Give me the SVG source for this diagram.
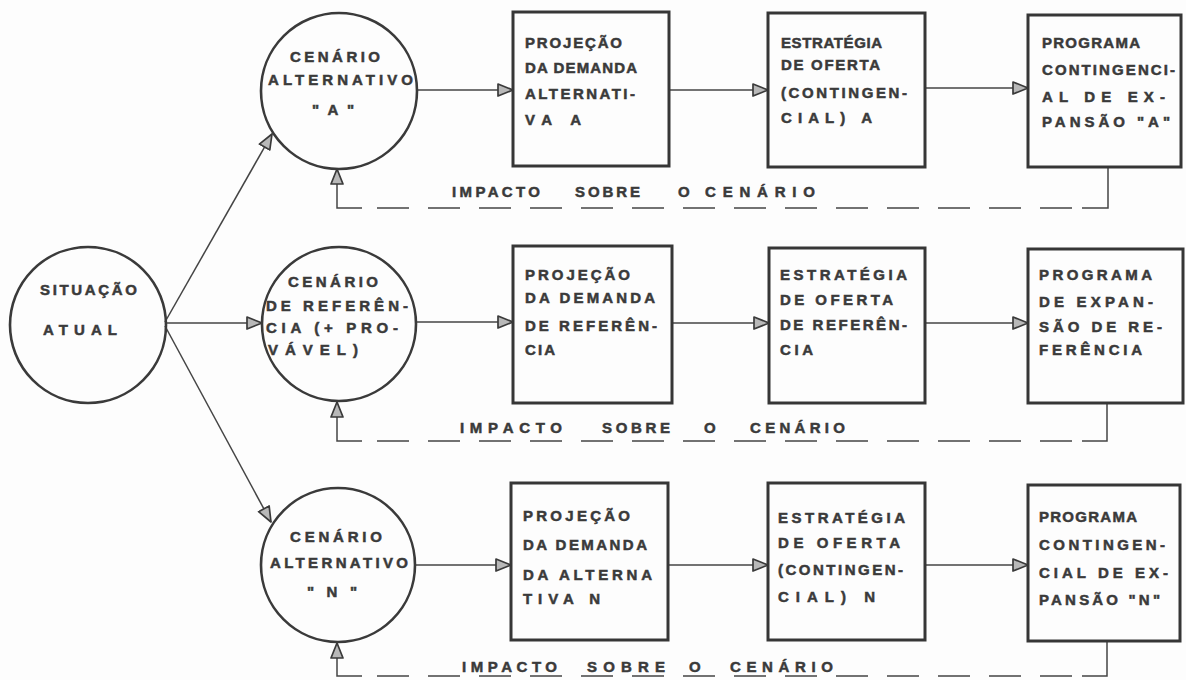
<svg xmlns="http://www.w3.org/2000/svg" width="1186" height="680" viewBox="0 0 1186 680">
<defs>
<style>
.bg{fill:#fdfdfd}
.circ{fill:none;stroke:#3a3a3a;stroke-width:2.6}
.box{fill:none;stroke:#363636;stroke-width:3}
.con{fill:none;stroke:#444;stroke-width:1.5}
.dash{fill:none;stroke:#444;stroke-width:1.6;stroke-dasharray:32 19}
text{font-family:"Liberation Sans","DejaVu Sans",sans-serif;font-weight:bold;font-size:15px;fill:#3a3a3a;stroke:#3a3a3a;stroke-width:0.5}
.imp{font-size:15px}
</style>
<marker id="ah" markerUnits="userSpaceOnUse" markerWidth="18" markerHeight="16" refX="16" refY="8" orient="auto">
<path d="M1,2 L16,8 L1,14 Z" fill="#b8b8b8" stroke="#3a3a3a" stroke-width="1.7" stroke-linejoin="round"/>
</marker>
</defs>
<rect class="bg" x="0" y="0" width="1186" height="680"/>

<g id="connectors">
<line class="con" x1="165" y1="322" x2="272" y2="134" marker-end="url(#ah)"/>
<line class="con" x1="166" y1="323" x2="262" y2="323" marker-end="url(#ah)"/>
<line class="con" x1="165" y1="326" x2="271" y2="522" marker-end="url(#ah)"/>

<line class="con" x1="417" y1="90" x2="513" y2="90" marker-end="url(#ah)"/>
<line class="con" x1="669" y1="90" x2="768" y2="90" marker-end="url(#ah)"/>
<line class="con" x1="925" y1="88" x2="1028" y2="88" marker-end="url(#ah)"/>

<line class="con" x1="416" y1="322" x2="513" y2="322" marker-end="url(#ah)"/>
<line class="con" x1="672" y1="323" x2="769" y2="323" marker-end="url(#ah)"/>
<line class="con" x1="925" y1="323" x2="1028" y2="323" marker-end="url(#ah)"/>

<line class="con" x1="415" y1="565" x2="511" y2="565" marker-end="url(#ah)"/>
<line class="con" x1="668" y1="565" x2="768" y2="565" marker-end="url(#ah)"/>
<line class="con" x1="925" y1="565" x2="1028" y2="565" marker-end="url(#ah)"/>

<polyline class="con" points="1108,167 1108,208 1082,208"/>
<line class="dash" x1="1072" y1="208" x2="360" y2="208"/>
<polyline class="con" points="362,208 337,208 337,169" marker-end="url(#ah)"/>

<polyline class="con" points="1107,403 1107,441 1082,441"/>
<line class="dash" x1="1072" y1="441" x2="360" y2="441"/>
<polyline class="con" points="362,441 337,441 337,402" marker-end="url(#ah)"/>

<polyline class="con" points="1107,641 1107,676 1082,676"/>
<line class="dash" x1="1072" y1="676" x2="360" y2="676"/>
<polyline class="con" points="362,676 337,676 337,643" marker-end="url(#ah)"/>

<text class="imp" y="197"><tspan x="452" textLength="88" lengthAdjust="spacing">IMPACTO</tspan><tspan x="575" textLength="65" lengthAdjust="spacing">SOBRE</tspan><tspan x="678">O</tspan><tspan x="705" textLength="110" lengthAdjust="spacing">CENÁRIO</tspan></text>
<text class="imp" y="433"><tspan x="460" textLength="102" lengthAdjust="spacing">IMPACTO</tspan><tspan x="602" textLength="68" lengthAdjust="spacing">SOBRE</tspan><tspan x="704">O</tspan><tspan x="750" textLength="95" lengthAdjust="spacing">CENÁRIO</tspan></text>
<text class="imp" y="672"><tspan x="462" textLength="95" lengthAdjust="spacing">IMPACTO</tspan><tspan x="587" textLength="78" lengthAdjust="spacing">SOBRE</tspan><tspan x="689">O</tspan><tspan x="730" textLength="103" lengthAdjust="spacing">CENÁRIO</tspan></text>
</g>

<g id="situacao">
<circle class="circ" cx="88" cy="325" r="78"/>
<text x="40" y="295" textLength="97" lengthAdjust="spacing">SITUAÇÃO</text>
<text x="43" y="335" textLength="74" lengthAdjust="spacing">ATUAL</text>
</g>

<g id="cenario-a">
<circle class="circ" cx="339" cy="91" r="78"/>
<text x="290" y="62" textLength="90" lengthAdjust="spacing">CENÁRIO</text>
<text x="268" y="85" textLength="145" lengthAdjust="spacing">ALTERNATIVO</text>
<text x="312" y="115" textLength="42" lengthAdjust="spacing">" A "</text>
</g>

<g id="cenario-ref">
<circle class="circ" cx="339" cy="324" r="77"/>
<text x="288" y="287" textLength="90" lengthAdjust="spacing">CENÁRIO</text>
<text x="266" y="311" textLength="142" lengthAdjust="spacing">DE REFERÊN-</text>
<text x="266" y="333" textLength="132" lengthAdjust="spacing">CIA (+ PRO-</text>
<text x="268" y="355" textLength="90" lengthAdjust="spacing">VÁVEL)</text>
</g>

<g id="cenario-n">
<circle class="circ" cx="338" cy="565" r="77"/>
<text x="290" y="542" textLength="92" lengthAdjust="spacing">CENÁRIO</text>
<text x="270" y="568" textLength="138" lengthAdjust="spacing">ALTERNATIVO</text>
<text x="307" y="597" textLength="50" lengthAdjust="spacing">" N "</text>
</g>

<g id="projecao-a">
<rect class="box" x="513" y="12" width="156" height="154"/>
<text x="525" y="48" textLength="97" lengthAdjust="spacing">PROJEÇÃO</text>
<text x="525" y="73" textLength="112" lengthAdjust="spacing">DA DEMANDA</text>
<text x="525" y="99" textLength="110" lengthAdjust="spacing">ALTERNATI-</text>
<text x="525" y="125" textLength="56" lengthAdjust="spacing">VA  A</text>
</g>

<g id="estrategia-a">
<rect class="box" x="768" y="13" width="157" height="154"/>
<text x="781" y="48" textLength="101" lengthAdjust="spacing">ESTRATÉGIA</text>
<text x="781" y="70" textLength="99" lengthAdjust="spacing">DE OFERTA</text>
<text x="781" y="98" textLength="126" lengthAdjust="spacing">(CONTINGEN-</text>
<text x="781" y="123" textLength="91" lengthAdjust="spacing">CIAL)  A</text>
</g>

<g id="programa-a">
<rect class="box" x="1028" y="15" width="153" height="152"/>
<text x="1042" y="48" textLength="98" lengthAdjust="spacing">PROGRAMA</text>
<text x="1042" y="75" textLength="133" lengthAdjust="spacing">CONTINGENCI-</text>
<text x="1042" y="102" textLength="123" lengthAdjust="spacing">AL DE EX-</text>
<text x="1042" y="127" textLength="128" lengthAdjust="spacing">PANSÃO "A"</text>
</g>

<g id="projecao-ref">
<rect class="box" x="513" y="246" width="159" height="157"/>
<text x="525" y="280" textLength="105" lengthAdjust="spacing">PROJEÇÃO</text>
<text x="525" y="303" textLength="130" lengthAdjust="spacing">DA DEMANDA</text>
<text x="525" y="331" textLength="132" lengthAdjust="spacing">DE REFERÊN-</text>
<text x="525" y="355" textLength="30" lengthAdjust="spacing">CIA</text>
</g>

<g id="estrategia-ref">
<rect class="box" x="769" y="248" width="156" height="155"/>
<text x="780" y="280" textLength="127" lengthAdjust="spacing">ESTRATÉGIA</text>
<text x="780" y="305" textLength="113" lengthAdjust="spacing">DE OFERTA</text>
<text x="780" y="330" textLength="127" lengthAdjust="spacing">DE REFERÊN-</text>
<text x="780" y="355" textLength="33" lengthAdjust="spacing">CIA</text>
</g>

<g id="programa-ref">
<rect class="box" x="1028" y="249" width="155" height="154"/>
<text x="1039" y="280" textLength="113" lengthAdjust="spacing">PROGRAMA</text>
<text x="1039" y="307" textLength="114" lengthAdjust="spacing">DE EXPAN-</text>
<text x="1039" y="332" textLength="123" lengthAdjust="spacing">SÃO DE RE-</text>
<text x="1039" y="355" textLength="103" lengthAdjust="spacing">FERÊNCIA</text>
</g>

<g id="projecao-n">
<rect class="box" x="511" y="483" width="157" height="157"/>
<text x="523" y="521" textLength="107" lengthAdjust="spacing">PROJEÇÃO</text>
<text x="523" y="550" textLength="124" lengthAdjust="spacing">DA DEMANDA</text>
<text x="523" y="580" textLength="129" lengthAdjust="spacing">DA ALTERNA</text>
<text x="523" y="604" textLength="77" lengthAdjust="spacing">TIVA  N</text>
</g>

<g id="estrategia-n">
<rect class="box" x="768" y="483" width="157" height="157"/>
<text x="778" y="523" textLength="127" lengthAdjust="spacing">ESTRATÉGIA</text>
<text x="778" y="548" textLength="122" lengthAdjust="spacing">DE OFERTA</text>
<text x="778" y="575" textLength="125" lengthAdjust="spacing">(CONTINGEN-</text>
<text x="778" y="602" textLength="97" lengthAdjust="spacing">CIAL)  N</text>
</g>

<g id="programa-n">
<rect class="box" x="1028" y="485" width="152" height="156"/>
<text x="1039" y="522" textLength="98" lengthAdjust="spacing">PROGRAMA</text>
<text x="1039" y="550" textLength="126" lengthAdjust="spacing">CONTINGEN-</text>
<text x="1039" y="578" textLength="129" lengthAdjust="spacing">CIAL DE EX-</text>
<text x="1039" y="605" textLength="121" lengthAdjust="spacing">PANSÃO "N"</text>
</g>
</svg>
